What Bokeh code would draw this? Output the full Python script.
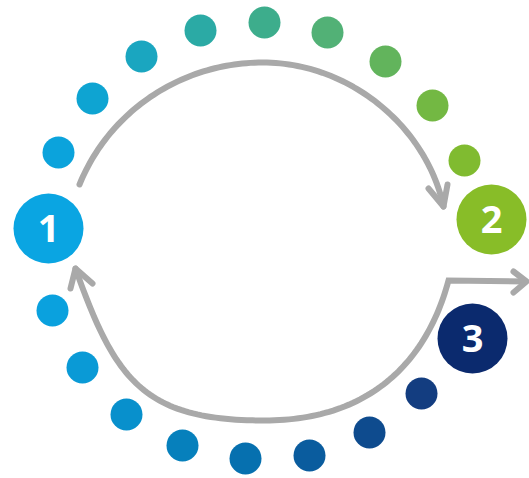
import numpy as np
from bokeh.plotting import figure
from bokeh.models import Range1d, ColumnDataSource
from bokeh.embed import file_html
from bokeh.resources import INLINE
from bokeh.core.properties import value

# ---- data (reference pixel coordinates) ----
top_dot_x = [58, 92, 141, 200, 264, 327, 385, 432, 464]
top_dot_y = [152, 98, 56, 30, 22, 32, 61, 105, 160]
top_dot_colors = ["#0BA3DC", "#0EA4D2", "#1AA6C0", "#2BAAA5", "#3DAD8C",
                  "#52B176", "#62B45C", "#73B843", "#80BB30"]

bottom_dot_x = [52, 82, 126, 182, 245, 309, 369, 421]
bottom_dot_y = [310, 367, 414, 445, 458, 455, 432, 393]
bottom_dot_colors = ["#0AA1DE", "#0A9AD6", "#0890CC", "#0680BC",
                     "#0670AF", "#0A5C9E", "#0E4B8E", "#133D80"]

step_labels = ["1", "2", "3"]
step_x = [48, 491, 472]
step_y = [228, 219, 338]
step_colors = ["#0AA5E2", "#88BD28", "#0B2A6E"]

# arrow paths: cubic bezier segments (start, ctrl1, ctrl2, end)
top_arc_segments = [
    [(79, 184), (109, 110), (182, 62), (262, 62)],
    [(262, 62), (350, 62), (426, 127), (443, 206)],
]
bottom_arc_segments = [
    [(75, 268), (115, 381), (144, 420), (264, 420)],
    [(264, 420), (364, 420), (424.6, 366.9), (448, 280)],
]
exit_line = [(448, 280), (525, 281)]
arrow_heads = [
    [(428, 188), (443, 206), (447, 184)],
    [(70, 288), (75, 268), (92, 283)],
    [(513, 271), (526, 281), (513, 292)],
]

ARROW = "#A9A9A9"
W, H = 529, 478


def bezier_path(segments, n=60):
    xs, ys = [], []
    t = np.linspace(0, 1, n)
    for (p0, p1, p2, p3) in segments:
        p0, p1, p2, p3 = map(np.array, (p0, p1, p2, p3))
        pts = (((1 - t) ** 3)[:, None] * p0 + (3 * (1 - t) ** 2 * t)[:, None] * p1
               + (3 * (1 - t) * t ** 2)[:, None] * p2 + (t ** 3)[:, None] * p3)
        xs.extend(pts[:, 0].tolist())
        ys.extend(pts[:, 1].tolist())
    return xs, ys


p = figure(width=W, height=H, output_backend="svg", toolbar_location=None,
           x_range=Range1d(0, W), y_range=Range1d(H, 0), min_border=0)
p.axis.visible = False
p.grid.visible = False
p.outline_line_color = None
p.background_fill_color = "white"

# arrows
tx, ty = bezier_path(top_arc_segments)
p.line(tx, ty, line_color=ARROW, line_width=6, line_cap="round", line_join="round")
bx, by = bezier_path(bottom_arc_segments)
bx += [exit_line[1][0]]
by += [exit_line[1][1]]
p.line(bx, by, line_color=ARROW, line_width=6, line_cap="round", line_join="miter")
p.multi_line(xs=[[q[0] for q in h] for h in arrow_heads],
             ys=[[q[1] for q in h] for h in arrow_heads],
             line_color=ARROW, line_width=6, line_cap="round", line_join="round")

# dots
dots = ColumnDataSource(dict(x=top_dot_x + bottom_dot_x, y=top_dot_y + bottom_dot_y,
                             c=top_dot_colors + bottom_dot_colors))
p.scatter("x", "y", source=dots, size=32, fill_color="c", line_color=None)

steps = ColumnDataSource(dict(x=step_x, y=step_y, c=step_colors, t=step_labels))
p.scatter("x", "y", source=steps, size=70, fill_color="c", line_color=None)
p.text("x", "y", text="t", source=steps, text_color="white",
       text_font=value("Open Sans"), text_font_style="bold", text_font_size="38px",
       text_align="center", text_baseline="middle")

open("out.html", "w").write(file_html(p, INLINE))
